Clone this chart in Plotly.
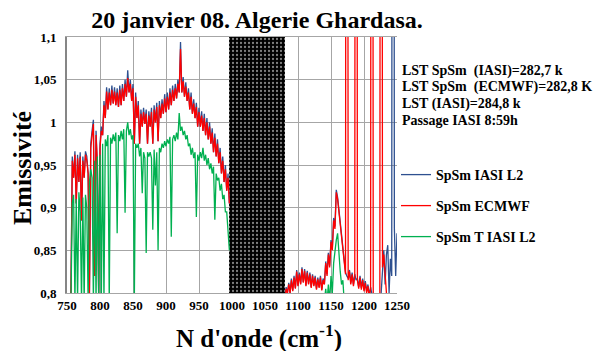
import plotly.graph_objects as go

TITLE = "20 janvier 08. Algerie Ghardasa."
X_TITLE = "N d'onde (cm<sup>-1</sup>)"
Y_TITLE = "Emissivité"
SERIES_NAMES = ["SpSm IASI L2", "SpSm ECMWF", "SpSm T IASI L2"]
SERIES_COLORS = ["#2E5090", "#FF0000", "#00B050"]
NOTES = ["LST SpSm&nbsp;&nbsp;(IASI)=282,7 k", "LST SpSm&nbsp;&nbsp;(ECMWF)=282,8 K",
         "LST (IASI)=284,8 k", "Passage IASI 8:59h"]

X_TICKS = [750, 800, 850, 900, 950, 1000, 1050, 1100, 1150, 1200, 1250]
X_TICK_TEXT = ["750", "800", "850", "900", "950", "1000", "1050", "1100", "1150", "1200", "1250"]
Y_TICKS = [0.8, 0.85, 0.9, 0.95, 1.0, 1.05, 1.1]
Y_TICK_TEXT = ["0,8", "0,85", "0,9", "0,95", "1", "1,05", "1,1"]

# masked (hatched) spectral band, cm-1
MASK_BAND = [996, 1081]

# wavenumber grids (cm-1)
WN_A = list(range(756, 998, 2))
WN_B = list(range(1080, 1252, 2))

# SpSm IASI L2
IASI_A = [
    0.80, 0.96, 0.935, 0.966, 0.905, 0.962, 0.93, 0.965, 0.885, 0.96,
    0.935, 0.966, 0.96, 0.94, 0.80, 0.975, 0.99, 1.003, 0.82, 0.99,
    0.95, 0.80, 0.975, 0.995, 0.985, 1.025, 1.005, 1.041, 1.015, 1.04,
    1.02, 1.043, 1.022, 1.041, 1.02, 1.04, 1.018, 1.043, 1.02, 1.045,
    1.025, 1.05, 1.03, 1.061, 1.035, 1.05, 1.025, 1.045, 0.975, 1.035,
    1.005, 1.025, 0.975, 1.015, 0.995, 1.017, 0.998, 1.015, 0.975, 1.013,
    0.995, 1.017, 0.975, 1.02, 1.0, 1.023, 0.978, 1.025, 1.005, 1.027,
    1.01, 1.033, 1.012, 1.035, 1.015, 1.04, 1.02, 1.043, 1.025, 1.045,
    1.028, 1.05, 1.035, 1.094, 1.035, 1.053, 1.03, 1.047, 1.025, 1.04,
    1.015, 1.035, 1.01, 1.027, 1.005, 1.023, 0.995, 1.017, 0.995, 1.013,
    0.99, 1.01, 0.985, 1.005, 0.98, 1.0, 0.975, 0.993, 0.965, 0.987,
    0.96, 0.98, 0.952, 0.97, 0.94, 0.96, 0.93, 0.95, 0.92, 0.94,
    0.905,
]
IASI_B = [
    0.79, 0.807, 0.80, 0.812, 0.80, 0.817, 0.803, 0.82, 0.806, 0.827,
    0.809, 0.824, 0.811, 0.83, 0.813, 0.828, 0.809, 0.826, 0.811, 0.824,
    0.807, 0.822, 0.809, 0.82, 0.805, 0.818, 0.807, 0.82, 0.804, 0.817,
    0.811, 0.837, 0.822, 0.847, 0.832, 0.862, 0.852, 0.888, 0.878, 0.921,
    0.912, 0.897, 0.882, 0.867, 0.852, 0.837, 0.824, 0.82, 0.817, 0.827,
    0.812, 0.824, 0.81, 0.822, 0.815, 0.817, 0.807, 0.82, 0.806, 0.817,
    0.804, 0.814, 0.802, 0.81, 0.797, 0.807, 0.80, 0.79, 0.79, 0.79,
    0.79, 0.79, 0.79, 0.80, 0.83, 0.85, 0.81, 0.845, 0.856, 0.80,
    0.84, 0.82, 3.0, 0.876, 0.82, 0.87,
]

# SpSm ECMWF
ECMWF_A = [
    0.80, 0.955, 0.935, 0.962, 0.905, 0.958, 0.93, 0.96, 0.885, 0.955,
    0.935, 0.962, 0.955, 0.94, 0.80, 0.97, 0.985, 0.998, 0.82, 0.985,
    0.95, 0.80, 0.97, 0.99, 0.985, 1.02, 1.005, 1.036, 1.015, 1.035,
    1.02, 1.038, 1.022, 1.036, 1.02, 1.035, 1.018, 1.038, 1.02, 1.04,
    1.025, 1.045, 1.03, 1.052, 1.035, 1.045, 1.025, 1.04, 0.975, 1.03,
    1.005, 1.02, 0.975, 1.01, 0.995, 1.012, 0.998, 1.01, 0.975, 1.008,
    0.995, 1.012, 0.975, 1.015, 1.0, 1.018, 0.978, 1.02, 1.005, 1.022,
    1.01, 1.028, 1.012, 1.03, 1.015, 1.035, 1.02, 1.038, 1.025, 1.04,
    1.028, 1.045, 1.035, 1.086, 1.035, 1.048, 1.03, 1.042, 1.025, 1.035,
    1.015, 1.03, 1.01, 1.022, 1.005, 1.018, 0.995, 1.012, 0.995, 1.008,
    0.99, 1.005, 0.985, 1.0, 0.98, 0.995, 0.975, 0.988, 0.965, 0.982,
    0.96, 0.975, 0.952, 0.965, 0.94, 0.955, 0.93, 0.945, 0.92, 0.935,
    0.905,
]
ECMWF_B = [
    0.79, 0.805, 0.80, 0.81, 0.80, 0.815, 0.802, 0.818, 0.805, 0.825,
    0.808, 0.822, 0.81, 0.828, 0.812, 0.826, 0.808, 0.824, 0.81, 0.822,
    0.806, 0.82, 0.808, 0.818, 0.804, 0.816, 0.806, 0.818, 0.803, 0.815,
    0.81, 0.835, 0.82, 0.845, 0.83, 0.86, 0.85, 0.885, 0.875, 0.918,
    0.91, 0.895, 0.88, 0.865, 0.85, 0.835, 0.822, 3.0, 0.815, 0.825,
    0.81, 0.822, 0.808, 0.82, 3.0, 0.815, 0.805, 0.818, 0.804, 0.815,
    0.802, 0.812, 0.80, 0.808, 0.795, 0.805, 3.0, 0.79, 0.79, 0.79,
    0.79, 0.79, 0.79, 3.0, 0.83, 0.845, 0.815, 0.80, 0.79, 0.79,
    0.79, 0.79, 0.79, 0.79, 0.79, 0.79,
]

# SpSm T IASI L2
T_IASI_A = [
    0.79, 0.905, 0.915, 0.79, 0.91, 0.79, 0.918, 0.895, 0.79, 0.912,
    0.79, 0.915, 0.90, 0.79, 0.93, 0.945, 0.935, 0.79, 0.955, 0.79,
    0.96, 0.79, 0.962, 0.79, 0.975, 0.79, 0.98, 0.972, 0.985, 0.79,
    0.982, 0.975, 0.986, 0.978, 0.988, 0.87, 0.985, 0.978, 0.99, 0.98,
    0.992, 0.894, 0.99, 1.0, 0.985, 0.992, 0.98, 0.985, 0.79, 0.975,
    0.97, 0.975, 0.96, 0.97, 0.917, 0.965, 0.958, 0.847, 0.965, 0.96,
    0.965, 0.958, 0.874, 0.968, 0.926, 0.965, 0.85, 0.97, 0.965, 0.975,
    0.97, 0.978, 0.972, 0.98, 0.975, 0.983, 0.866, 0.98, 0.985, 0.978,
    0.988, 0.98, 1.011, 0.99, 0.995, 0.985, 0.99, 0.98, 0.985, 0.972,
    0.975, 0.962, 0.97, 0.958, 0.965, 0.889, 0.962, 0.955, 0.965, 0.958,
    0.97, 0.955, 0.962, 0.95, 0.958, 0.945, 0.952, 0.94, 0.948, 0.886,
    0.94, 0.932, 0.935, 0.92, 0.928, 0.91, 0.915, 0.895, 0.895, 0.87,
    0.85,
]
T_IASI_B = [
    0.79, 0.79, 0.79, 0.79, 0.79, 0.79, 0.79, 0.79, 0.79, 0.79,
    0.79, 0.79, 0.79, 0.79, 0.79, 0.79, 0.79, 0.79, 0.79, 0.79,
    0.79, 0.79, 0.79, 0.79, 0.79, 0.79, 0.79, 0.79, 0.79, 0.79,
    0.79, 0.805, 0.79, 0.81, 0.79, 0.82, 0.80, 0.835, 0.85, 0.862,
    0.87, 0.845, 0.825, 0.81, 0.815, 0.79, 0.79, 0.79, 0.79, 0.79,
    0.79, 0.79, 0.79, 0.79, 0.79, 0.79, 0.79, 0.79, 0.79, 0.79,
    0.79, 0.79, 0.79, 0.79, 0.79, 0.79, 0.79, 0.79, 0.79, 0.79,
    0.79, 0.79, 0.79, 0.79, 0.79, 0.79, 0.79, 0.79, 0.79, 0.79,
    0.79, 0.79, 0.79, 0.79, 0.79, 0.79,
]

SERIF = "Liberation Serif"
Y_MIN, Y_MAX = Y_TICKS[0], Y_TICKS[-1]

fig = go.Figure()

# hatched masked band
fig.add_trace(go.Bar(
    x=[(MASK_BAND[0] + MASK_BAND[1]) / 2], y=[Y_MAX - Y_MIN], base=[Y_MIN],
    width=[MASK_BAND[1] - MASK_BAND[0]],
    marker=dict(color="black", line=dict(width=0),
                pattern=dict(shape=".", fgcolor="white", bgcolor="black",
                             size=4, solidity=0.25, fillmode="overlay")),
    showlegend=False, hoverinfo="skip",
))

series = [(IASI_A, IASI_B), (ECMWF_A, ECMWF_B), (T_IASI_A, T_IASI_B)]
legend_ids = ["legend", "legend2", "legend3"]
for (ya, yb), name, color, lg in zip(series, SERIES_NAMES, SERIES_COLORS, legend_ids):
    fig.add_trace(go.Scatter(
        x=WN_A + [None] + WN_B, y=ya + [None] + yb,
        mode="lines", name=name, legend=lg,
        line=dict(color=color, width=1.3),
        connectgaps=False, hoverinfo="skip",
    ))

L, R, T, B = 67, 197, 37, 58
W, H = 594, 351
pw, ph = W - L - R, H - T - B


def px_x(px):
    return (px - L) / pw


def px_y(py):
    return (H - B - py) / ph


def bold(size):
    return dict(family=SERIF, size=size, color="black", weight="bold")


legend_common = dict(font=bold(14), bgcolor="rgba(0,0,0,0)", borderwidth=0,
                     xanchor="left", yanchor="middle", x=px_x(396))

fig.update_layout(
    width=W, height=H,
    margin=dict(l=L, r=R, t=T, b=B),
    paper_bgcolor="white", plot_bgcolor="white",
    barmode="overlay", bargap=0,
    hovermode=False,
    title=dict(text=TITLE, x=257 / W, y=1 - 20 / H, xref="container", yref="container",
               xanchor="center", yanchor="middle", font=bold(24)),
    legend=dict(**legend_common, y=px_y(175)),
    legend2=dict(**legend_common, y=px_y(206)),
    legend3=dict(**legend_common, y=px_y(237)),
    xaxis=dict(range=[X_TICKS[0], X_TICKS[-1]], tickvals=X_TICKS, ticktext=X_TICK_TEXT,
               showgrid=True, gridcolor="#A6A6A6", gridwidth=1,
               showline=True, linecolor="#A6A6A6", linewidth=1, mirror=True,
               zeroline=False, ticks="", tickfont=bold(13)),
    yaxis=dict(range=[Y_MIN, Y_MAX], tickvals=Y_TICKS, ticktext=Y_TICK_TEXT,
               showgrid=True, gridcolor="#A6A6A6", gridwidth=1,
               showline=True, linecolor="#868686", linewidth=2,
               zeroline=False, ticks="", ticklabelstandoff=6, tickfont=bold(13)),
)

annotations = []
for i, note in enumerate(NOTES):
    annotations.append(dict(text=note, xref="paper", yref="paper",
                            x=px_x(400), y=px_y(70.7 + i * 16.7),
                            xanchor="left", yanchor="middle", showarrow=False,
                            font=bold(14)))
annotations.append(dict(text=X_TITLE, xref="paper", yref="paper",
                        x=px_x(259), y=px_y(336), xanchor="center", yanchor="middle",
                        showarrow=False, font=bold(25)))
annotations.append(dict(text=Y_TITLE, xref="paper", yref="paper", textangle=-90,
                        x=px_x(22), y=px_y(168), xanchor="center", yanchor="middle",
                        showarrow=False, font=bold(26)))
fig.update_layout(annotations=annotations)

fig.write_html("out.html", post_script="document.body.style.margin='0px';",
               config={"displayModeBar": False})
